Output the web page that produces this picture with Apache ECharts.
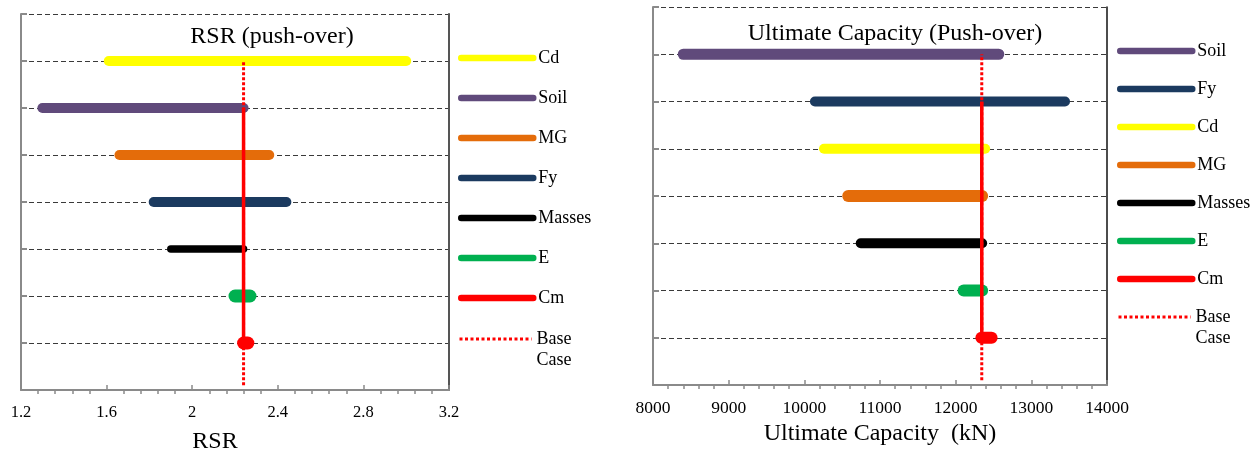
<!DOCTYPE html>
<html>
<head>
<meta charset="utf-8">
<title>RSR and Ultimate Capacity sensitivity</title>
<script src="https://cdn.jsdelivr.net/npm/echarts@6/dist/echarts.min.js"></script>
<style>
  html, body { margin: 0; padding: 0; background: #ffffff; }
  #chart { width: 1250px; height: 452px; }
</style>
</head>
<body>
<div id="chart"></div>
<script>
// ---- RSR (push-over): parameter ranges, top row first ----
const rsrCategories = ['Cd', 'Soil', 'MG', 'Fy', 'Masses', 'E', 'Cm'];
const rsrLow  = [1.61, 1.30, 1.66, 1.82, 1.90, 2.20, 2.24];
const rsrHigh = [3.00, 2.24, 2.36, 2.44, 2.24, 2.27, 2.26];
const rsrBase = 2.24;

// ---- Ultimate capacity (push-over), kN ----
const capCategories = ['Soil', 'Fy', 'Cd', 'MG', 'Masses', 'E', 'Cm'];
const capLow  = [8400, 10140, 10260, 10580, 10745, 12105, 12340];
const capHigh = [12570, 13445, 12390, 12350, 12350, 12350, 12475];
const capBase = 12345;

// ---- styling ----
const FONT = "'Liberation Serif', 'Times New Roman', serif";
const colors = {
  Cd: '#FFFF00', Soil: '#604A7B', MG: '#E46C0A', Fy: '#1B3A5F',
  Masses: '#000000', E: '#00B050', Cm: '#FF0000'
};
const rsrWidths = { Cd: 10, Soil: 10, MG: 10, Fy: 10, Masses: 7.5, E: 13, Cm: 13 };
const capWidths = { Soil: 11, Fy: 10, Cd: 10, MG: 12, Masses: 10, E: 12, Cm: 12 };
const AXIS_GRAY = '#8a8a8a';

// one horizontal range line per category, plus the base-case marker lines
function rangeSeries(cats, low, high, base, axisIdx, widths) {
  const list = cats.map((c, i) => {
    const row = cats.length - i;
    return {
      type: 'line', name: c, xAxisIndex: axisIdx, yAxisIndex: axisIdx,
      data: [[low[i], row], [high[i], row]],
      symbol: 'none', silent: true, z: 3,
      itemStyle: { color: colors[c] },
      lineStyle: { color: colors[c], width: widths[c], cap: 'round' }
    };
  });
  list.push({
    type: 'line', name: 'Base Case', xAxisIndex: axisIdx, yAxisIndex: axisIdx,
    data: [[base, 0.1], [base, cats.length]],
    symbol: 'none', silent: true, z: 5,
    itemStyle: { color: '#FF0000' },
    lineStyle: { color: '#FF0000', width: 3, type: [3, 2] }
  });
  list.push({
    type: 'line', name: 'Base span', xAxisIndex: axisIdx, yAxisIndex: axisIdx,
    data: [[base, 1], [base, cats.length - 1]],
    symbol: 'none', silent: true, z: 6,
    itemStyle: { color: '#FF0000' },
    lineStyle: { color: '#FF0000', width: 3.5 }
  });
  return list;
}

function mainX(gridIndex, min, max, interval, labelSize, margin, name, nameGap, namePad) {
  return {
    type: 'value', gridIndex, min, max, interval, position: 'bottom',
    axisLine: { show: true, lineStyle: { color: AXIS_GRAY, width: 2 } },
    axisTick: { show: true, inside: true, length: 5, lineStyle: { color: AXIS_GRAY, width: 1.5 } },
    minorTick: { show: false },
    splitLine: { show: false },
    axisLabel: { color: '#000', fontFamily: FONT, fontSize: labelSize, margin,
                 formatter: v => String(v) },
    name, nameLocation: 'middle', nameGap,
    nameTextStyle: { color: '#000', fontFamily: FONT, fontSize: 24, padding: namePad }
  };
}
function minorX(gridIndex, min, max, interval) {
  return {
    type: 'value', gridIndex, min, max, interval, position: 'bottom',
    axisLine: { show: false }, axisLabel: { show: false },
    axisTick: { show: false, inside: false },
    minorTick: { show: true, splitNumber: 5, length: 4, lineStyle: { color: AXIS_GRAY, width: 1.5 } },
    splitLine: { show: false }
  };
}
function mainY(gridIndex) {
  return {
    type: 'value', gridIndex, min: 0, max: 8, interval: 1, position: 'left',
    axisLine: { show: true, lineStyle: { color: AXIS_GRAY, width: 2 } },
    axisTick: { show: true, inside: true, length: 6, lineStyle: { color: AXIS_GRAY, width: 2 } },
    axisLabel: { show: false },
    splitLine: { show: true, lineStyle: { color: '#3a3a3a', width: 1, type: [5, 3] } }
  };
}
function borderY(gridIndex, color, width) {
  return {
    type: 'value', gridIndex, min: 0, max: 8, interval: 1, position: 'right',
    axisLine: { show: true, lineStyle: { color, width } },
    axisTick: { show: false }, axisLabel: { show: false }, splitLine: { show: false }
  };
}

function legends(cats, left, top, gap, baseTop) {
  return [
    {
      data: cats.map(c => ({ name: c })),
      orient: 'vertical', left, top, itemGap: gap, padding: 0,
      itemWidth: 72, itemHeight: 18, selectedMode: false,
      itemStyle: { opacity: 0 },
      lineStyle: { width: 6.5, cap: 'round' },
      textStyle: { color: '#000', fontFamily: FONT, fontSize: 18, lineHeight: 18 }
    },
    {
      data: [{ name: 'Base Case' }],
      orient: 'vertical', left, top: baseTop, padding: 0,
      itemWidth: 72, itemHeight: 18, selectedMode: false,
      itemStyle: { opacity: 0 },
      lineStyle: { width: 3, type: [3, 2.5], cap: 'butt' },
      // blank first line keeps "Base" level with the dotted icon
      formatter: () => '\nBase\nCase',
      textStyle: { color: '#000', fontFamily: FONT, fontSize: 18, lineHeight: 21 }
    }
  ];
}

const chart = echarts.init(document.getElementById('chart'), null, { renderer: 'canvas' });
chart.setOption({
  backgroundColor: '#ffffff',
  animation: false,
  grid: [
    { left: 21, right: 801, top: 14, bottom: 62, outerBoundsMode: 'none' },
    { left: 653, right: 143, top: 7, bottom: 67, outerBoundsMode: 'none' }
  ],
  xAxis: [
    mainX(0, 1.2, 3.2, 0.4, 16.5, 14, 'RSR', 40, [0, 40, 0, 0]),
    minorX(0, 1.2, 3.2, 0.4),
    mainX(1, 8000, 14000, 1000, 17.5, 14, 'Ultimate Capacity  (kN)', 26, 0),
    minorX(1, 8000, 14000, 1000)
  ],
  yAxis: [
    mainY(0), borderY(0, '#555555', 2),
    mainY(1), borderY(1, '#111111', 1.5)
  ],
  legend: [
    ...legends(rsrCategories, 458, 49, 22, 307.5),
    ...legends(capCategories, 1117, 42, 20, 285.5)
  ],
  graphic: [
    { type: 'text', x: 272, y: 37, silent: true,
      style: { text: 'RSR (push-over)', font: '24px ' + FONT, fill: '#000',
               textAlign: 'center', textVerticalAlign: 'middle' } },
    { type: 'text', x: 895, y: 34, silent: true,
      style: { text: 'Ultimate Capacity (Push-over)', font: '24px ' + FONT, fill: '#000',
               textAlign: 'center', textVerticalAlign: 'middle' } }
  ],
  series: [
    ...rangeSeries(rsrCategories, rsrLow, rsrHigh, rsrBase, 0, rsrWidths),
    ...rangeSeries(capCategories, capLow, capHigh, capBase, 2, capWidths)
  ]
});
</script>
</body>
</html>
